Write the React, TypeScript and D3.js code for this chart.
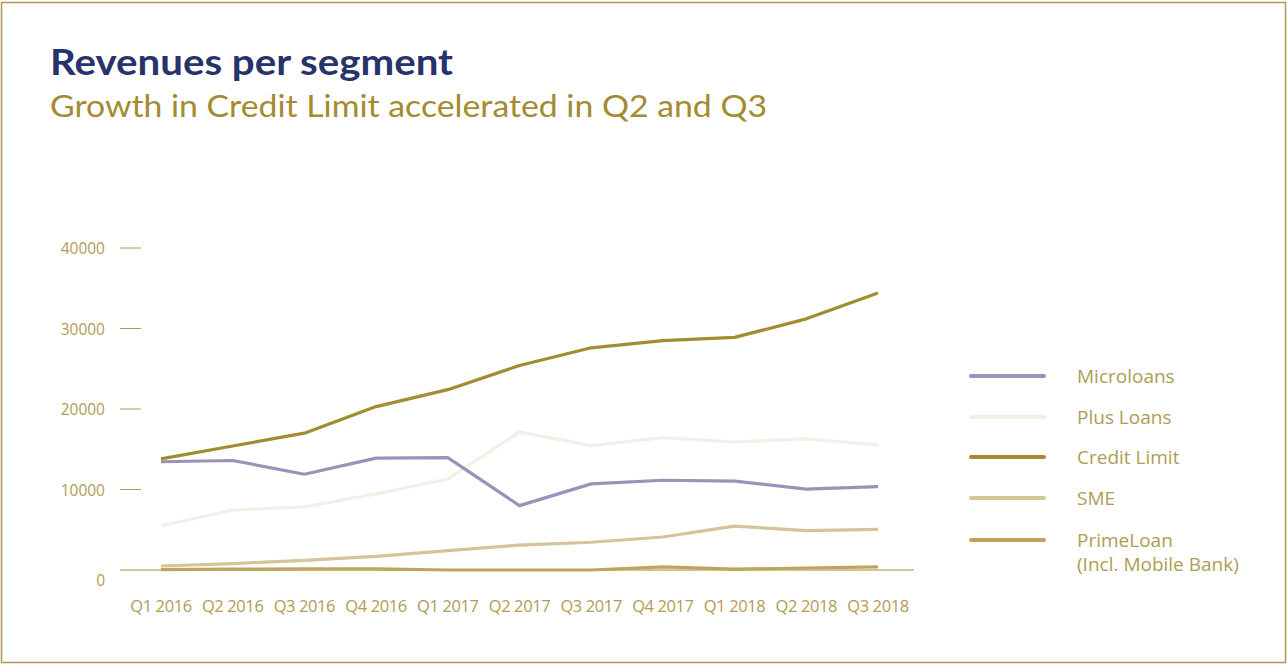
import React from "react";
import * as d3 from "d3";

const categories = ["Q1 2016", "Q2 2016", "Q3 2016", "Q4 2016", "Q1 2017", "Q2 2017", "Q3 2017", "Q4 2017", "Q1 2018", "Q2 2018", "Q3 2018"];
const microloans = [13450, 13600, 11900, 13900, 13950, 8000, 10700, 11150, 11050, 10050, 10350];
const plusLoans = [5500, 7450, 7850, 9450, 11300, 17150, 15450, 16450, 15900, 16300, 15550];
const creditLimit = [13800, 15400, 17000, 20300, 22400, 25400, 27600, 28500, 28900, 31200, 34400];
const sme = [500, 800, 1200, 1700, 2400, 3100, 3450, 4100, 5450, 4900, 5050];
const primeLoan = [50, 100, 150, 150, 0, 0, 0, 400, 100, 250, 400];
const yTicks = [0, 10000, 20000, 30000, 40000];

const seriesList = [
  { name: "PrimeLoan", label: ["PrimeLoan", "(Incl. Mobile Bank)"], values: primeLoan, color: "#bfa55c", legendIdx: 4 },
  { name: "SME", label: ["SME"], values: sme, color: "#d5c498", legendIdx: 3 },
  { name: "Plus Loans", label: ["Plus Loans"], values: plusLoans, color: "#f4efe6", legendIdx: 1 },
  { name: "Microloans", label: ["Microloans"], values: microloans, color: "#9a93b9", legendIdx: 0 },
  { name: "Credit Limit", label: ["Credit Limit"], values: creditLimit, color: "#a38b30", legendIdx: 2 },
];

const W = 1287;
const H = 664;
const gold = "#a38b30";
const tickGold = "#b19c53";

export default function App() {
  const x = d3.scalePoint<string>().domain(categories).range([161, 878]);
  const y = d3.scaleLinear().domain([0, 40000]).range([570, 248]);
  const line = d3
    .line<number>()
    .x((_, i) => x(categories[i]) as number)
    .y((d) => y(d));

  const legendY = [376, 417, 457, 498, 540];

  return (
    <svg width={W} height={H} style={{ position: "absolute", left: 0, top: 0, background: "#fff" }}>
      <rect x={1.5} y={2.5} width={1284} height={660} fill="none" stroke="#ad9850" strokeWidth={1.5} />
      <text
        x={50}
        y={75}
        fontFamily="Lato, 'Open Sans', sans-serif"
        fontWeight={700}
        fontSize={36}
        textLength={403}
        lengthAdjust="spacingAndGlyphs"
        fill="#27336b"
      >
        Revenues per segment
      </text>
      <text
        x={50}
        y={117}
        fontFamily="Lato, 'Open Sans', sans-serif"
        fontSize={30}
        textLength={717}
        lengthAdjust="spacingAndGlyphs"
        fill="#a38b30"
      >
        Growth in Credit Limit accelerated in Q2 and Q3
      </text>

      {/* y ticks */}
      {yTicks.map((t) => (
        <g key={t}>
          {t !== 0 && <line x1={120} x2={141} y1={y(t)} y2={y(t)} stroke={tickGold} strokeWidth={1} />}
          <text
            x={105}
            y={t === 0 ? y(t) + 10 : y(t)}
            textAnchor="end"
            dominantBaseline="central"
            fontFamily="'Open Sans', sans-serif"
            fontSize={15.5}
            fill={tickGold}
          >
            {t}
          </text>
        </g>
      ))}
      <line x1={120} x2={914} y1={y(0)} y2={y(0)} stroke={gold} strokeWidth={1} />

      {/* x labels */}
      {categories.map((c) => (
        <text
          key={c}
          x={x(c)}
          y={605}
          textAnchor="middle"
          dominantBaseline="central"
          fontFamily="'Open Sans', sans-serif"
          fontSize={16.5}
          letterSpacing={-0.4}
          fill={tickGold}
        >
          {c}
        </text>
      ))}

      {/* lines */}
      {seriesList.map((s) => (
        <path key={s.name} d={line(s.values) || ""} fill="none" stroke={s.color} strokeWidth={3.2} strokeLinejoin="round" />
      ))}

      {/* legend */}
      {seriesList.map((s) => {
        const ly = legendY[s.legendIdx];
        return (
          <g key={"lg" + s.name}>
            <line x1={971} x2={1044} y1={ly} y2={ly} stroke={s.color} strokeWidth={4} strokeLinecap="round" />
            {s.label.map((l, j) => (
              <text
                key={j}
                x={1077}
                y={ly + j * 24}
                dominantBaseline="central"
                fontFamily="'Open Sans', sans-serif"
                fontSize={19}
                fill={tickGold}
              >
                {l}
              </text>
            ))}
          </g>
        );
      })}
    </svg>
  );
}
